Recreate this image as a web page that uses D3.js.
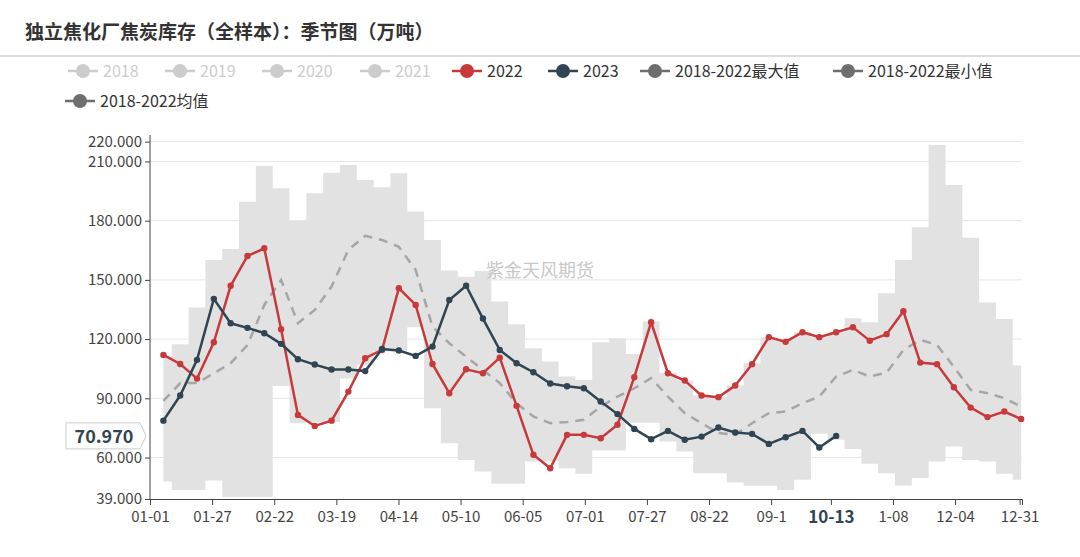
<!DOCTYPE html>
<html><head><meta charset="utf-8">
<script src="https://cdn.jsdelivr.net/npm/d3@7"></script>
<style>
body { margin: 0; background: #fff; }
text { font-family: "Noto Sans CJK SC", "Noto Sans", sans-serif; }
</style></head>
<body><svg id="chart" width="1080" height="557"></svg>
<script>
var s2022 = [112, 107.4, 100, 118.4, 147, 162.1, 166, 125, 81.6, 76, 78.7, 93.4, 110.3, 114.5, 145.8, 137.3,
  107.4, 92.6, 104.7, 102.7, 110.6, 86.2, 61.4, 54.6, 71.5, 71.5, 69.8, 76.6, 100.7, 128.6, 102.7, 99,
  91.4, 90.6, 96.5, 107.3, 121, 118.6, 123.5, 121, 123.5, 126, 119.2, 122.5, 134.1, 108.1, 107.3, 95.6,
  85.3, 80.5, 83.3, 79.5];
var s2023 = [78.7, 91.4, 109.5, 140.4, 128, 125.7, 123, 117.6, 109.8, 107.1, 104.6, 104.6, 103.8, 115, 114.2,
  111.5, 116.2, 139.8, 147, 130.4, 114.5, 107.8, 103.2, 97.5, 96.1, 95.1, 88.4, 82, 74.5, 69.3, 73.5, 69,
  70.6, 75.2, 72.7, 72, 66.9, 70.3, 73.5, 65.1, 70.97];
var sMax = [111.6, 117.4, 136, 160.1, 165.7, 189.6, 207.7, 196.4, 180, 193.9, 204.3, 208.2, 200.6, 196.9, 204,
  184.6, 170.2, 154.7, 151.6, 154.5, 139, 127.5, 115.4, 108.6, 101, 99.3, 118.4, 120.4, 112.4, 128.9, 103,
  99, 91.4, 90.9, 96.5, 107.8, 121, 120.4, 123.5, 121, 123.5, 130.6, 128.5, 143.2, 160.1, 176.6, 218.3,
  198.1, 171.4, 138.5, 130.2, 106.6];
var sMin = [47.9, 43.6, 43.6, 48.4, 40, 40, 40, 96.3, 77.4, 78, 78, 100, 107, 113.7, 113.7, 126, 85, 67.3,
  58.8, 52.9, 46.7, 46.7, 58, 58, 54.6, 51.8, 63.6, 63.6, 77.6, 77.6, 68.1, 63, 52, 52, 47.4, 45.7, 45.7,
  43.6, 48.7, 72, 69, 64.3, 56.8, 52, 45.8, 49.6, 58, 65.6, 58.8, 58, 51.8, 48.7];
var sMean = [88.7, 97.7, 97.7, 102.7, 107.8, 117, 137.3, 150, 128, 134.8, 146.6, 165.2, 172.3, 170.2, 166.8,
  155, 126.3, 117.9, 111.1, 104.4, 97.7, 87.5, 80.8, 77.4, 78, 79.1, 85.8, 90.9, 95.1, 100.2, 90.9, 82.5,
  77.4, 72.4, 71.5, 77.4, 82.5, 83.3, 87.5, 90.9, 101, 104.4, 101, 103, 114.5, 119.6, 117, 106, 94.3,
  92.6, 90.1, 85.8];
var tickDays = [0, 26, 52, 78, 104, 130, 156, 182, 208, 234, 260, 285, 311, 337, 364];
var tickLabels = ['01-01', '01-27', '02-22', '03-19', '04-14', '05-10', '06-05', '07-01', '07-27', '08-22',
  '09-1', '10-13', '1-08', '12-04', '12-31'];
var yTicks = [39, 60, 90, 120, 150, 180, 210, 220];
var legendNames = ['2018', '2019', '2020', '2021', '2022', '2023', '2018-2022最大值', '2018-2022最小值', '2018-2022均值'];

var RED = '#c8393b', DARK = '#2f4554', GREY = '#6e6e6e', OFF = '#cccccc';
var svg = d3.select('#chart');

// title
svg.append('text').attr('x', 25).attr('y', 39).attr('font-size', 19).attr('font-weight', 'bold')
  .attr('fill', '#333').text('独立焦化厂焦炭库存（全样本）：季节图（万吨）');
svg.append('line').attr('x1', 0).attr('x2', 1080).attr('y1', 56).attr('y2', 56)
  .attr('stroke', '#bbb').attr('stroke-width', 1);

// legend
var legendPos = [[68, 71], [165, 71], [262, 71], [360, 71], [452, 71], [548, 71], [640, 71], [833, 71], [65, 101]];
var legendCol = [OFF, OFF, OFF, OFF, RED, DARK, GREY, GREY, GREY];
var lg = svg.append('g').selectAll('g').data(legendNames).enter().append('g')
  .attr('transform', function (d, i) { return 'translate(' + legendPos[i][0] + ',' + legendPos[i][1] + ')'; });
lg.append('line').attr('x1', 0).attr('x2', 30).attr('stroke', function (d, i) { return legendCol[i]; })
  .attr('stroke-width', 2.5);
lg.append('circle').attr('cx', 15).attr('r', 7).attr('fill', function (d, i) { return legendCol[i]; });
lg.append('text').attr('x', 35).attr('y', 6).attr('font-size', 16)
  .attr('fill', function (d, i) { return i < 4 ? OFF : '#333'; }).text(function (d) { return d; });

var x = d3.scaleLinear().domain([0, 365]).range([150, 1022]);
var y = d3.scaleLinear().domain([39, 220]).range([499, 141.7]);
function px(d, i) { return x(5.6 + i * 7.04); }

// grid
svg.append('g').selectAll('line').data(yTicks.slice(1)).enter().append('line')
  .attr('x1', 150).attr('x2', 1022).attr('y1', y).attr('y2', y)
  .attr('stroke', '#e6e6e6').attr('stroke-width', 1);

// band
var band = d3.area().x(px).y0(function (d, i) { return y(sMin[i]); }).y1(function (d) { return y(d); })
  .curve(d3.curveStep);
svg.append('path').datum(sMax).attr('d', band).attr('fill', '#e2e2e2');

// watermark
svg.append('text').attr('x', 540).attr('y', 277).attr('text-anchor', 'middle').attr('font-size', 18)
  .attr('fill', '#c8c8c8').text('紫金天风期货');

// mean
svg.append('path').datum(sMean).attr('d', d3.line().x(px).y(y))
  .attr('fill', 'none').attr('stroke', '#a6a6a6').attr('stroke-width', 2.5).attr('stroke-dasharray', '9,7');

function series(data, col) {
  svg.append('path').datum(data).attr('d', d3.line().x(px).y(y))
    .attr('fill', 'none').attr('stroke', col).attr('stroke-width', 2.5);
  svg.append('g').selectAll('circle').data(data).enter().append('circle')
    .attr('cx', px).attr('cy', y).attr('r', 3.2).attr('fill', col);
}
series(s2022, RED);
series(s2023, DARK);

// axes
var yAxis = d3.axisLeft(y).tickValues(yTicks).tickFormat(d3.format('.3f')).tickSize(5);
var ya = svg.append('g').attr('transform', 'translate(150,0)').call(yAxis);
ya.select('.domain').attr('stroke', '#444').attr('d', 'M0,135V499');
ya.selectAll('.tick line').attr('stroke', '#444');
ya.selectAll('text').attr('font-size', 15).attr('fill', '#444')
  .style('font-family', '"Noto Sans CJK SC", sans-serif');

var xAxis = d3.axisBottom(x).tickValues(tickDays).tickFormat(function (d, i) { return tickLabels[i]; }).tickSize(6);
var xa = svg.append('g').attr('transform', 'translate(0,499)').call(xAxis);
xa.select('.domain').attr('stroke', '#444');
xa.selectAll('.tick line').attr('stroke', '#444');
xa.selectAll('text').attr('font-size', 15).attr('fill', '#444').attr('dy', '0.9em')
  .style('font-family', '"Noto Sans CJK SC", sans-serif')
  .attr('font-weight', function (d, i) { return i === 11 ? 'bold' : null; })
  .attr('fill', function (d, i) { return i === 11 ? DARK : '#444'; })
  .attr('font-size', function (d, i) { return i === 11 ? 17 : 15; });

// y pointer label
var last = s2023[s2023.length - 1];
var pl = svg.append('g').attr('transform', 'translate(0,' + y(last) + ')');
pl.append('path').attr('d', 'M66,-13H140L146,0L140,13H66Z').attr('fill', '#fff')
  .attr('stroke', '#ccc').attr('stroke-width', 1);
pl.append('text').attr('x', 104).attr('y', 7).attr('text-anchor', 'middle').attr('font-size', 18)
  .attr('font-weight', 'bold').attr('fill', DARK).text(d3.format('.3f')(last));
</script></body></html>
